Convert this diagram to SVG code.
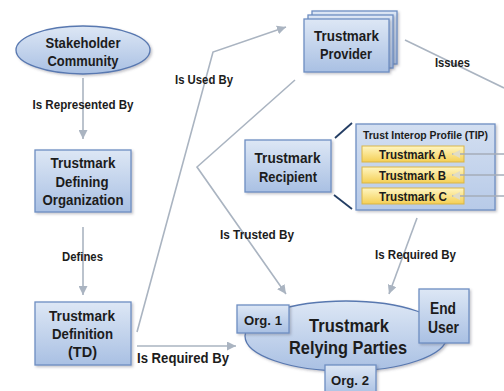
<svg xmlns="http://www.w3.org/2000/svg" width="504" height="391" viewBox="0 0 504 391">
<defs>
<linearGradient id="gBlue" x1="0" y1="0" x2="0" y2="1">
<stop offset="0" stop-color="#dde7f5"/>
<stop offset="1" stop-color="#a9c0e3"/>
</linearGradient>
<linearGradient id="gYel" x1="0" y1="0" x2="0" y2="1">
<stop offset="0" stop-color="#fff6c2"/>
<stop offset="1" stop-color="#f4cf55"/>
</linearGradient>
<linearGradient id="gTip" x1="0" y1="0" x2="0" y2="1">
<stop offset="0" stop-color="#d3dff1"/>
<stop offset="1" stop-color="#b7cae8"/>
</linearGradient>
<filter id="sh" x="-10%" y="-10%" width="130%" height="130%">
<feDropShadow dx="1.5" dy="1.5" stdDeviation="1.2" flood-color="#556" flood-opacity="0.35"/>
</filter>
<marker id="ah" viewBox="0 0 10 10" refX="10" refY="5" markerWidth="9" markerHeight="9" markerUnits="userSpaceOnUse" orient="auto">
<path d="M0,0 L10,5 L0,10 z" fill="#aab4c1"/>
</marker>
<marker id="ahp" viewBox="0 0 10 10" refX="10" refY="5" markerWidth="8" markerHeight="8" markerUnits="userSpaceOnUse" orient="auto">
<path d="M0,0 L10,5 L0,10 z" fill="#e0dcc6"/>
</marker>
</defs>
<style>
text{font-family:"Liberation Sans",Arial,sans-serif;font-weight:bold;fill:#1c1c1c;text-anchor:middle}
.box{fill:url(#gBlue);stroke:#6e8ec2;stroke-width:1.3;filter:url(#sh)}
.ell{fill:url(#gBlue);stroke:#5878b0;stroke-width:1.3;filter:url(#sh)}
.yel{fill:url(#gYel);stroke:#d9b548;stroke-width:1}
.conn{fill:none;stroke:#aab4c1;stroke-width:1.6}
.dark{fill:none;stroke:#233d63;stroke-width:1.8}
.n{font-size:14.5px}
.lb{font-size:13px}
.st{text-anchor:start}
</style>
<rect width="504" height="391" fill="#ffffff"/>
<g id="connectors">
<path class="conn" d="M83,78 L83,139" marker-end="url(#ah)"/>
<path class="conn" d="M83,227 L83,295" marker-end="url(#ah)"/>
<path class="conn" d="M137,346 L236,346" marker-end="url(#ah)"/>
<path class="conn" d="M137,332 L213,52 L286,27" marker-end="url(#ah)"/>
<path class="conn" d="M295,80 L197,167 L286,294" marker-end="url(#ah)"/>
<path class="conn" d="M405,40 L504,88"/>
<path class="conn" d="M417,218 L389,294" marker-end="url(#ah)"/>
<path class="dark" d="M335,138 L352,123"/>
<path class="dark" d="M334,195 L352,209"/>
</g>
<g id="labels">
<text class="lb" x="83" y="108.5" textLength="101" lengthAdjust="spacingAndGlyphs">Is Represented By</text>
<text class="lb" x="82.5" y="260.5" textLength="41" lengthAdjust="spacingAndGlyphs">Defines</text>
<text class="st" x="137" y="363" font-size="14.5" textLength="92" lengthAdjust="spacingAndGlyphs">Is Required By</text>
<text class="lb st" x="175" y="83.5" textLength="58" lengthAdjust="spacingAndGlyphs">Is Used By</text>
<text class="lb" x="257" y="238.5" textLength="74" lengthAdjust="spacingAndGlyphs">Is Trusted By</text>
<text class="lb" x="452.5" y="66.5" textLength="35" lengthAdjust="spacingAndGlyphs">Issues</text>
<text class="lb" x="415.5" y="258.5" textLength="81" lengthAdjust="spacingAndGlyphs">Is Required By</text>
</g>
<g id="stakeholder">
<ellipse class="ell" cx="83" cy="50" rx="67" ry="24"/>
<text class="n" x="83" y="48" textLength="75" lengthAdjust="spacingAndGlyphs">Stakeholder</text>
<text class="n" x="83" y="66" textLength="71" lengthAdjust="spacingAndGlyphs">Community</text>
</g>
<g id="tdo">
<rect class="box" x="35" y="150" width="96" height="62"/>
<text class="n" x="83" y="168" textLength="65" lengthAdjust="spacingAndGlyphs">Trustmark</text>
<text class="n" x="82" y="187" textLength="53" lengthAdjust="spacingAndGlyphs">Defining</text>
<text class="n" x="83" y="205" textLength="81" lengthAdjust="spacingAndGlyphs">Organization</text>
</g>
<g id="td">
<rect class="box" x="35" y="302" width="96" height="63"/>
<text class="n" x="82" y="321" textLength="66" lengthAdjust="spacingAndGlyphs">Trustmark</text>
<text class="n" x="82.5" y="339" textLength="61" lengthAdjust="spacingAndGlyphs">Definition</text>
<text class="n" x="82.5" y="357" textLength="29" lengthAdjust="spacingAndGlyphs">(TD)</text>
</g>
<g id="provider">
<rect class="box" x="312" y="11" width="85" height="53"/>
<rect class="box" x="308" y="15" width="85" height="53"/>
<rect class="box" x="304" y="19" width="85" height="53"/>
<text class="n" x="346.5" y="41" textLength="65" lengthAdjust="spacingAndGlyphs">Trustmark</text>
<text class="n" x="346" y="59" textLength="52" lengthAdjust="spacingAndGlyphs">Provider</text>
</g>
<g id="recipient">
<rect class="box" x="245" y="140" width="86" height="52"/>
<text class="n" x="287.5" y="163" textLength="66" lengthAdjust="spacingAndGlyphs">Trustmark</text>
<text class="n" x="288" y="182" textLength="58" lengthAdjust="spacingAndGlyphs">Recipient</text>
</g>
<g id="tip">
<rect x="356" y="124" width="139" height="86" fill="url(#gTip)" stroke="#6e8ec2" stroke-width="1.3" filter="url(#sh)"/>
<text x="425.5" y="139" font-size="10.5" textLength="125" lengthAdjust="spacingAndGlyphs">Trust Interop Profile (TIP)</text>
<g id="tmA">
<rect class="yel" x="362" y="146" width="102" height="16"/>
<text x="412.5" y="158.5" font-size="12.5" textLength="67" lengthAdjust="spacingAndGlyphs">Trustmark A</text>
</g>
<g id="tmB">
<rect class="yel" x="362" y="167" width="102" height="16"/>
<text x="412.5" y="179.5" font-size="12.5" textLength="67" lengthAdjust="spacingAndGlyphs">Trustmark B</text>
</g>
<g id="tmC">
<rect class="yel" x="362" y="188" width="102" height="16"/>
<text x="413" y="200.5" font-size="12.5" textLength="68" lengthAdjust="spacingAndGlyphs">Trustmark C</text>
</g>
</g>
<g id="tip-arrows">
<path d="M504,154 L452,154" stroke="#a5adb8" stroke-width="1.3" fill="none" marker-end="url(#ahp)"/>
<path d="M504,175 L452,175" stroke="#a5adb8" stroke-width="1.3" fill="none" marker-end="url(#ahp)"/>
<path d="M504,196 L452,196" stroke="#a5adb8" stroke-width="1.3" fill="none" marker-end="url(#ahp)"/>
</g>
<g id="relying">
<ellipse class="ell" cx="346" cy="336" rx="101" ry="35"/>
<text x="349" y="331.5" font-size="18.5" textLength="80" lengthAdjust="spacingAndGlyphs">Trustmark</text>
<text x="348" y="353.5" font-size="18.5" textLength="118" lengthAdjust="spacingAndGlyphs">Relying Parties</text>
</g>
<g id="org1">
<rect class="box" x="237" y="305" width="52" height="28"/>
<text x="263" y="324.5" font-size="13" textLength="38" lengthAdjust="spacingAndGlyphs">Org. 1</text>
</g>
<g id="enduser">
<rect class="box" x="419" y="289" width="50" height="54"/>
<text x="443" y="313.5" font-size="16" textLength="26" lengthAdjust="spacingAndGlyphs">End</text>
<text x="443.5" y="332.5" font-size="16" textLength="31" lengthAdjust="spacingAndGlyphs">User</text>
</g>
<g id="org2">
<rect class="box" x="325" y="365" width="51" height="30"/>
<text x="350" y="384.5" font-size="13" textLength="38" lengthAdjust="spacingAndGlyphs">Org. 2</text>
</g>
</svg>
